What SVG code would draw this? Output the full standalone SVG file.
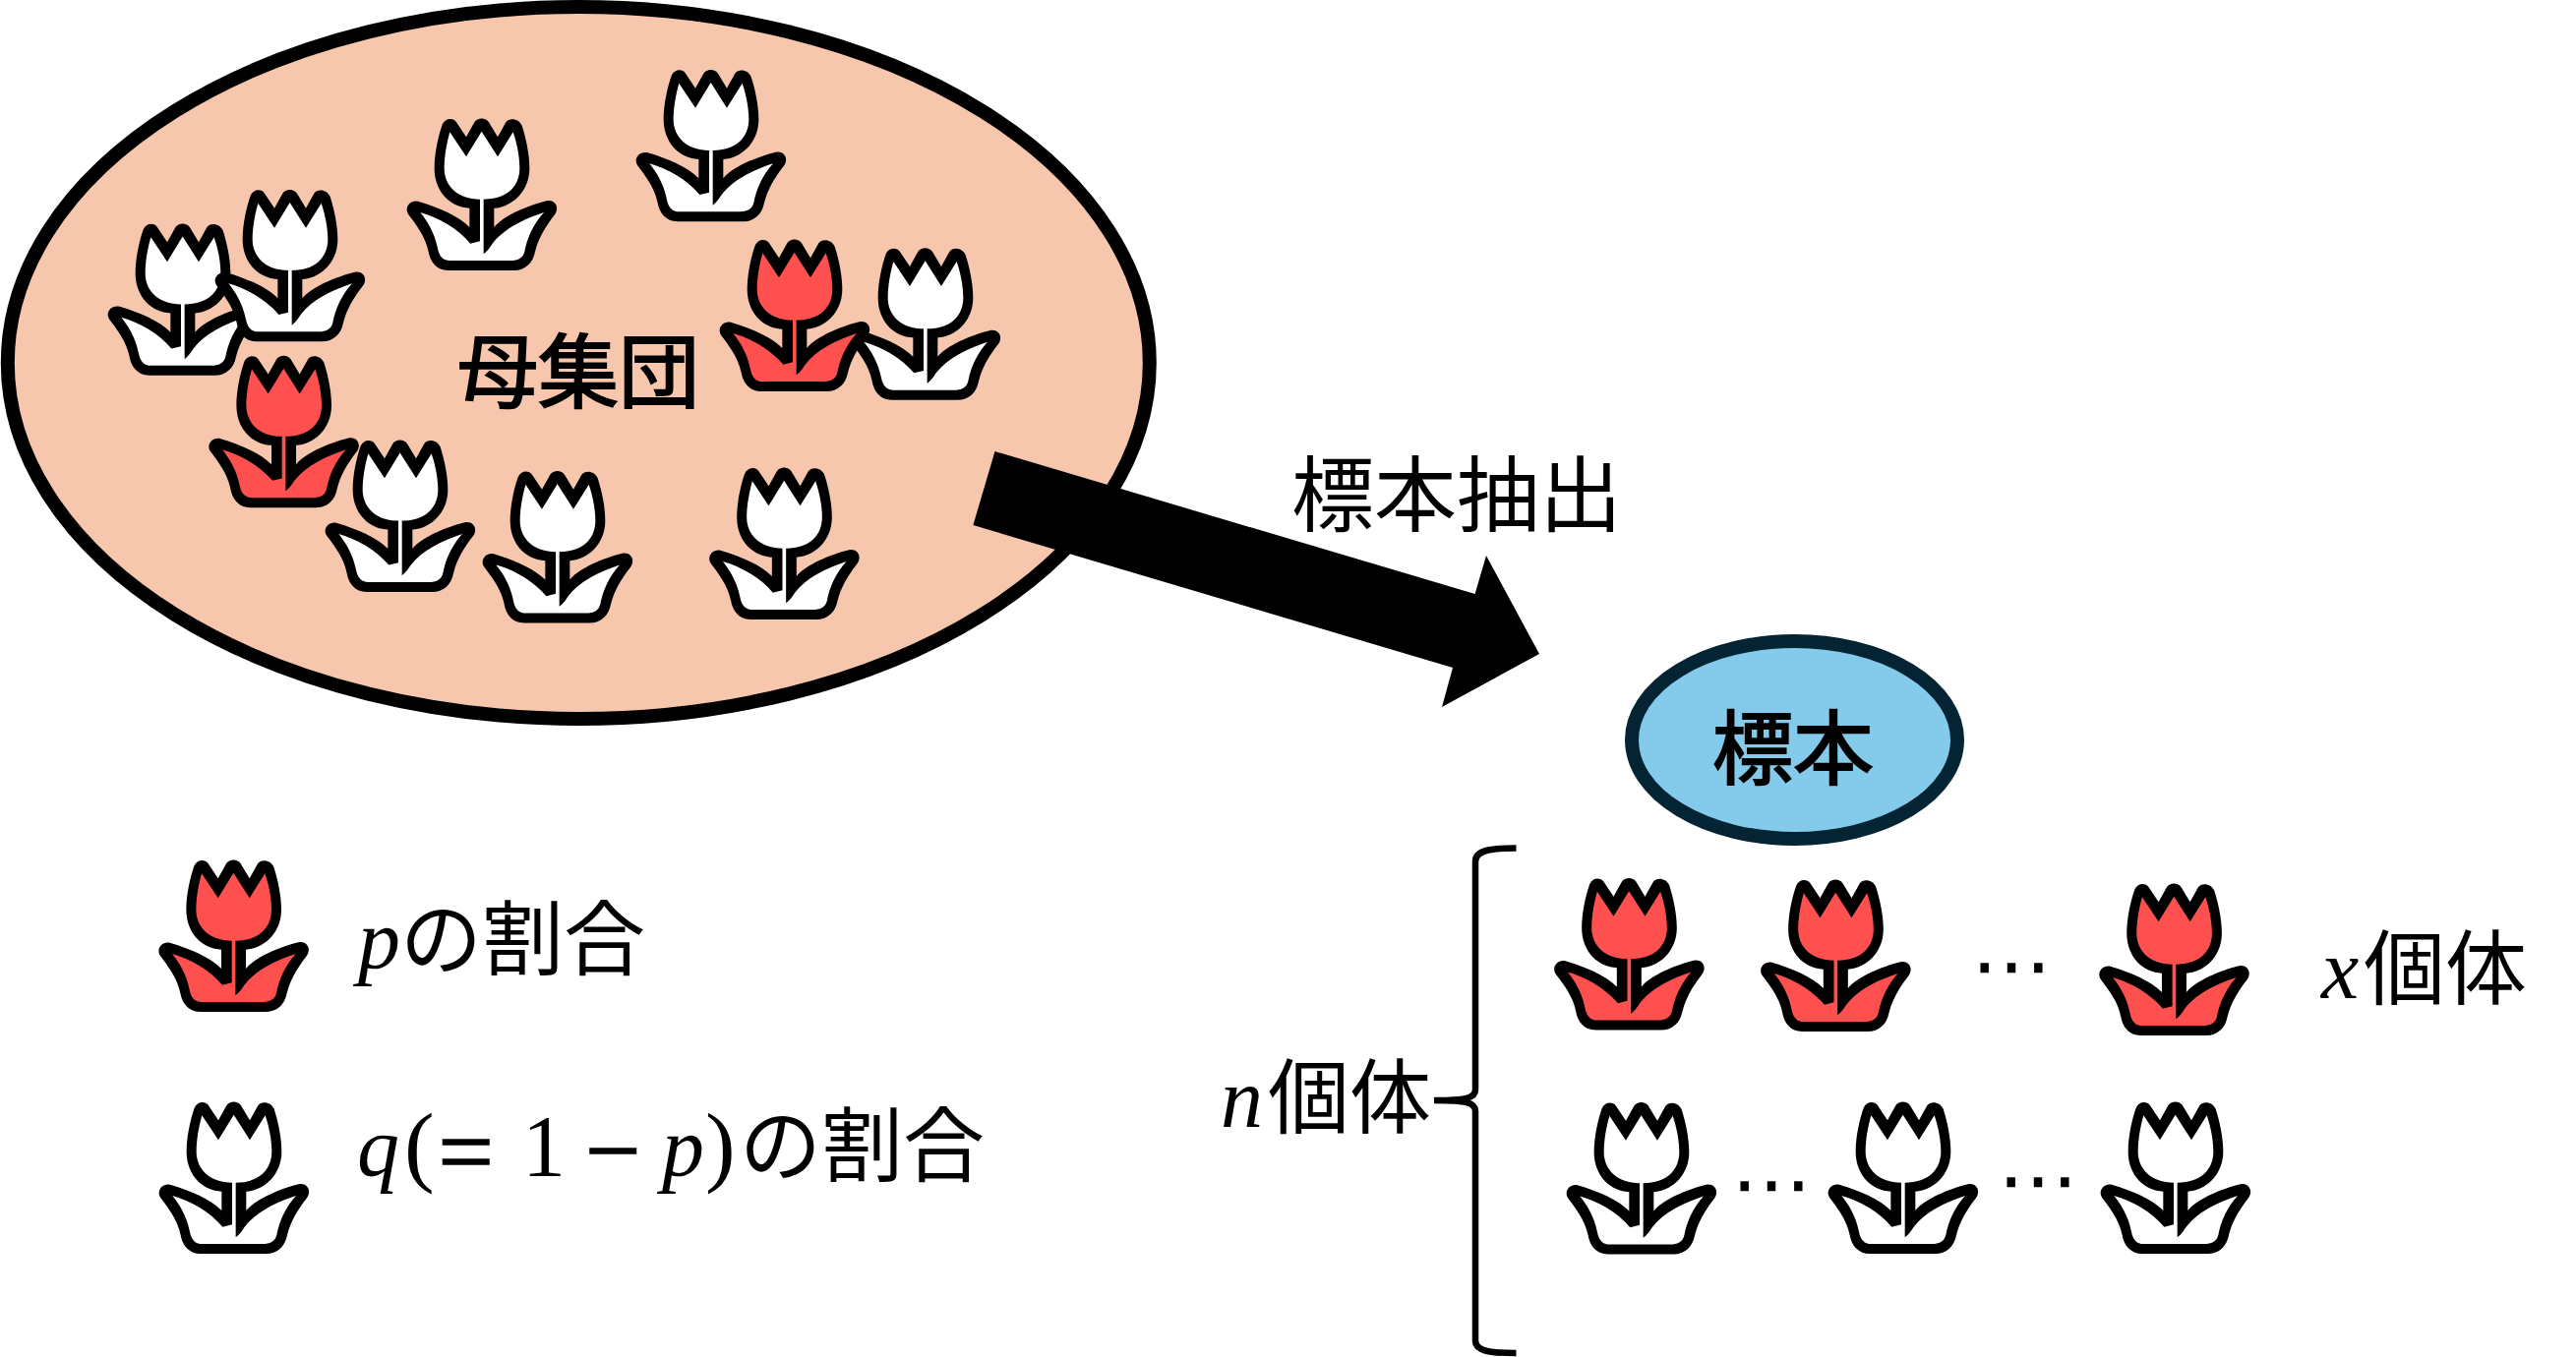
<svg xmlns="http://www.w3.org/2000/svg" xmlns:xlink="http://www.w3.org/1999/xlink" width="2619" height="1380" viewBox="0 0 2619 1380">
<style>
.cjk{font-family:"Noto Sans CJK JP","Noto Sans CJK SC",sans-serif;font-size:83px;fill:#000}
.heavy{font-size:82px;stroke:#000;stroke-width:2}
.m{font-family:"Liberation Serif",serif;font-size:86px;font-style:italic;fill:#000}
.r{font-family:"Liberation Serif",serif;font-size:88px;fill:#000}
.op{font-size:100px;stroke:#000;stroke-width:1.5}
.par{font-size:92px}
.dots{font-family:"DejaVu Sans",sans-serif;font-size:82px;fill:#000}
.red{fill:#FF5050}
.white{fill:#FFFFFF}
</style>
<defs>
<g id="tulip" transform="scale(0.3333) translate(-263,-306)">
<path fill="#000" d="M142 92C150 72 175 70 185 85L215 130L240 85C250 70 274 70 284 85L311 130L336 85C346 70 375 72 385 95C398 135 408 185 408 225C408 300 350 345 300 347L300 405C330 370 400 340 460 325C485 320 502 345 484 368C455 405 435 440 425 480C418 515 395 537 360 537L160 537C125 537 105 510 100 480C90 430 60 395 38 365C25 345 45 320 70 327C130 345 190 370 225 405L225 347C170 345 118 300 118 225C118 180 130 125 142 92Z"/>
<path d="M165 115L215 190L262 113L311 190L358 115C370 150 378 190 378 225C378 280 340 320 268 320L268 487C280 478 287 467 295 455C330 410 390 380 452 360C420 395 400 440 393 480C388 500 372 507 350 507L165 507C145 507 133 495 128 470C118 420 95 385 75 360C130 375 190 410 228 455L257 448L257 320C190 320 148 280 148 225C148 190 155 150 165 115Z"/>
</g>
</defs>
<g id="population">
<ellipse cx="588.3" cy="369" rx="580.5" ry="362" fill="#F6C6AD" stroke="#000" stroke-width="14"/>
<text class="cjk heavy" x="465" y="408">母集団</text>
</g>
<g id="population-tulips">
<use id="pop1" href="#tulip" x="490" y="198" class="white"/>
<use id="pop2" href="#tulip" x="723" y="148.3" class="white"/>
<use id="pop3" href="#tulip" x="186" y="304.8" class="white"/>
<use id="pop4" href="#tulip" x="295" y="270.3" class="white"/>
<use id="pop6" href="#tulip" x="941" y="329.7" class="white"/>
<use id="pop5" href="#tulip" x="808" y="321" class="red"/>
<use id="pop7" href="#tulip" x="288.7" y="439.2" class="red"/>
<use id="pop8" href="#tulip" x="407" y="524.9" class="white"/>
<use id="pop9" href="#tulip" x="567" y="556.5" class="white"/>
<use id="pop10" href="#tulip" x="797.5" y="553" class="white"/>
</g>
<g id="connectors">
<polygon id="sampling-arrow" points="1011.5,459 1499.6,604 1511,565 1565,665 1466,719 1477,679 989.4,534" fill="#000"/>
<path id="brace" d="M1541.5 862.5C1518 862.5 1500 864 1500 876V1108C1500 1117 1490 1119 1458 1119C1490 1119 1500 1121 1500 1130V1363C1500 1375 1518 1376 1541.5 1376" fill="none" stroke="#000" stroke-width="6.5"/>
</g>
<g id="sampling-label"><text class="cjk" x="1313" y="534" style="font-size:84px">標本抽出</text></g>
<g id="sample">
<ellipse cx="1824.5" cy="752.5" rx="165.5" ry="100.5" fill="#83CAEB" stroke="#042433" stroke-width="14"/>
<text class="cjk heavy" x="1741" y="791">標本</text>
</g>
<g id="legend-p">
<use href="#tulip" x="237.7" y="952" class="red"/>
<text class="m" x="364" y="984">p</text>
<text class="cjk" x="407" y="985">の割合</text>
</g>
<g id="legend-q">
<use href="#tulip" x="238" y="1198" class="white"/>
<text class="m" x="363" y="1195">q</text>
<text class="r par" x="411" y="1195">(</text>
<text class="r op" x="445.5" y="1205">=</text>
<text class="r" x="531" y="1195">1</text>
<text class="r op" x="595" y="1204">−</text>
<text class="m" x="673" y="1195">p</text>
<text class="r par" x="717" y="1195">)</text>
<text class="cjk" x="752" y="1195">の割合</text>
</g>
<g id="sample-red">
<use href="#tulip" x="1656.5" y="970.5" class="red"/>
<use href="#tulip" x="1866.5" y="972" class="red"/>
<text class="dots" x="2004" y="1010">⋯</text>
<use href="#tulip" x="2210.6" y="976" class="red"/>
<text class="m" x="2360" y="1015">x</text>
<text class="cjk" x="2403" y="1015">個体</text>
</g>
<g id="sample-white">
<use href="#tulip" x="1669" y="1198.5" class="white"/>
<text class="dots" x="1760" y="1232">⋯</text>
<use href="#tulip" x="1935" y="1198" class="white"/>
<text class="dots" x="2031" y="1228">⋯</text>
<use href="#tulip" x="2212" y="1198" class="white"/>
</g>
<g id="n-label">
<text class="m" x="1241" y="1146">n</text>
<text class="cjk" x="1289" y="1146">個体</text>
</g>
</svg>
